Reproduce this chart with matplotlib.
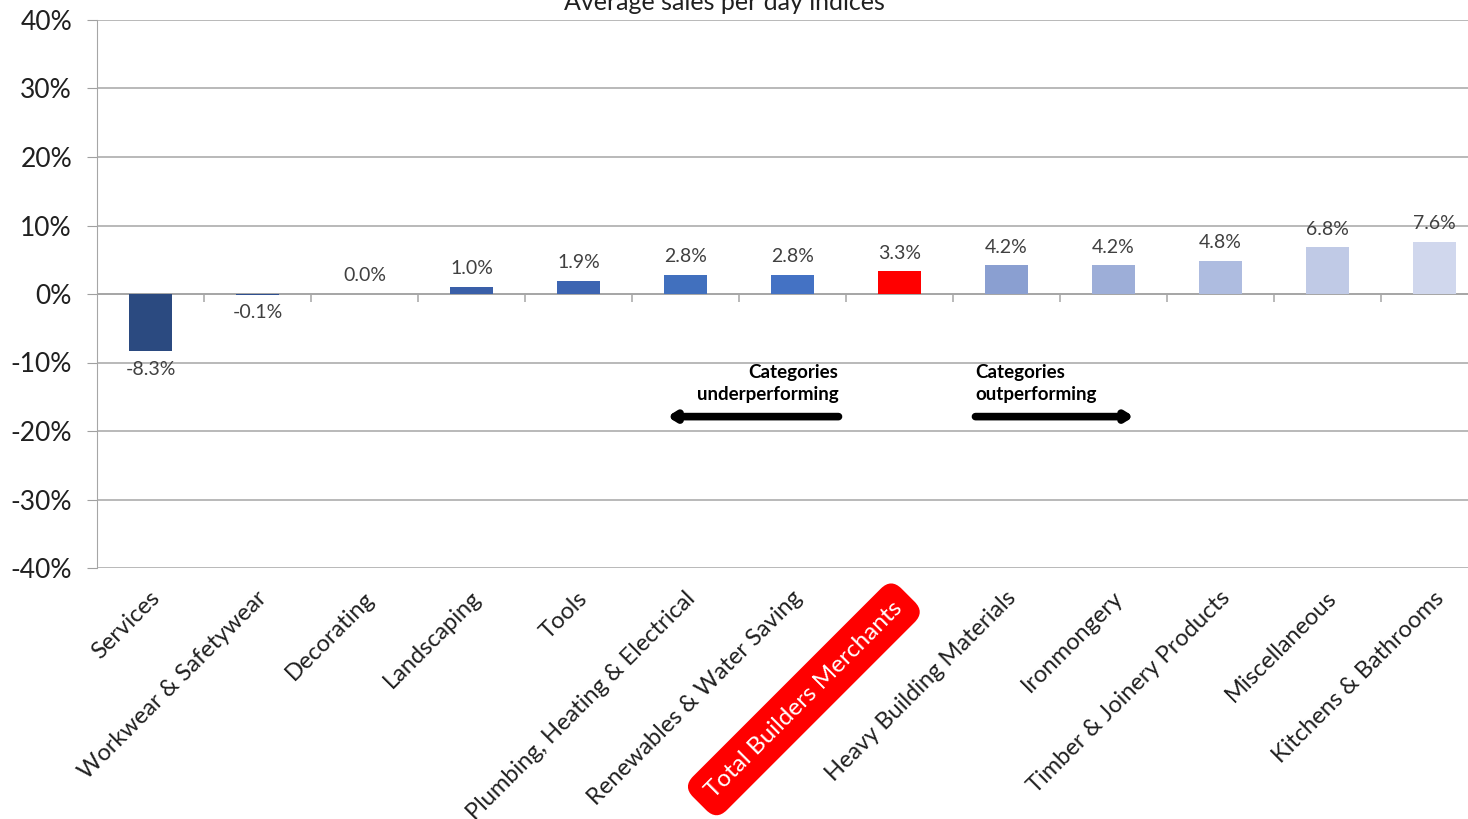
import numpy as np
import matplotlib.pyplot as plt
from matplotlib.ticker import FuncFormatter

plt.rcParams['font.family'] = ['Lato', 'DejaVu Sans']

categories = ['Services', 'Workwear & Safetywear', 'Decorating', 'Landscaping', 'Tools',
              'Plumbing, Heating & Electrical', 'Renewables & Water Saving',
              'Total Builders Merchants', 'Heavy Building Materials', 'Ironmongery',
              'Timber & Joinery Products', 'Miscellaneous', 'Kitchens & Bathrooms']
values = [-8.3, -0.1, 0.0, 1.0, 1.9, 2.8, 2.8, 3.3, 4.2, 4.2, 4.8, 6.8, 7.6]
colors = ['#2B4A80', '#2F5090', '#3356A0', '#3A5FA8', '#3D65B2', '#4170BE', '#4472C4',
          '#FF0000', '#8A9FD1', '#9DAED8', '#AEBCE0', '#C0CAE6', '#D0D7ED']
total_name = 'Total Builders Merchants'

fig = plt.figure(figsize=(14.68, 8.19), dpi=100)
# axes runs a bit past the right edge, as in the reference
ax = fig.add_axes([97 / 1468, 1 - 568 / 819, 1391 / 1468, 548 / 819])

x = np.arange(len(categories))
ax.bar(x, values, width=0.4, color=colors, zorder=3)

for xi, v in zip(x, values):
    if v < 0:
        ax.annotate(f'{v:.1f}%', (xi, v), xytext=(0, -7), textcoords='offset points',
                    ha='center', va='top', fontsize=14, color='#404040')
    else:
        ax.annotate(f'{v:.1f}%', (xi, v), xytext=(0, 7), textcoords='offset points',
                    ha='center', va='bottom', fontsize=14, color='#404040')

ax.set_xlim(-0.5, len(categories) - 0.5)
ax.set_ylim(-40, 40)
ax.set_yticks(np.arange(-40, 41, 10))
ax.yaxis.set_major_formatter(FuncFormatter(lambda v, p: f'{v:.0f}%'))
ax.tick_params(axis='y', labelsize=19, length=7, color='#A0A0A0', labelcolor='#202020', pad=11)
ax.grid(axis='y', color='#A6A6A6', linewidth=1.1, zorder=0)
ax.axhline(0, color='#A6A6A6', linewidth=1.3, zorder=2)
# category boundary ticks on the zero line
ax.vlines(x[:-1] + 0.5, -1.2, 0, color='#A6A6A6', linewidth=1.1, zorder=2)

for s in ['top', 'right', 'bottom']:
    ax.spines[s].set_visible(False)
ax.spines['left'].set_color('#A6A6A6')

ax.set_xticks(x)
ax.set_xticklabels([])
ax.tick_params(axis='x', length=0)
for xi, name in zip(x, categories):
    if name == total_name:
        ax.annotate(name, (xi, -40), xytext=(-6, -21), textcoords='offset points',
                    rotation=45, ha='right', va='top', rotation_mode='anchor',
                    fontsize=17.5, color='white',
                    bbox=dict(boxstyle='round,pad=0.55,rounding_size=0.6', fc='#FF0000', ec='none'))
    else:
        ax.annotate(name, (xi, -40), xytext=(-1, -14), textcoords='offset points',
                    rotation=45, ha='right', va='top', rotation_mode='anchor',
                    fontsize=17, color='#202020')

fig.text(724 / 1468, 1 - 2 / 819, 'Average sales per day indices', fontsize=18,
         color='#202020', ha='center', va='center')

ax.text(6.43, -10.2, 'Categories\nunderperforming', ha='right', va='top',
        fontsize=13.5, fontweight='bold', linespacing=1.35)
ax.text(7.71, -10.2, 'Categories\noutperforming', ha='left', va='top',
        fontsize=13.5, fontweight='bold', linespacing=1.35)
ax.annotate('', xy=(4.83, -17.9), xytext=(6.43, -17.9),
            arrowprops=dict(arrowstyle='-|>,head_width=0.25,head_length=0.4', lw=5.5,
                            color='black', shrinkA=0, shrinkB=0))
ax.annotate('', xy=(9.19, -17.9), xytext=(7.71, -17.9),
            arrowprops=dict(arrowstyle='-|>,head_width=0.25,head_length=0.4', lw=5.5,
                            color='black', shrinkA=0, shrinkB=0))

fig.savefig('out.png', dpi=100)
